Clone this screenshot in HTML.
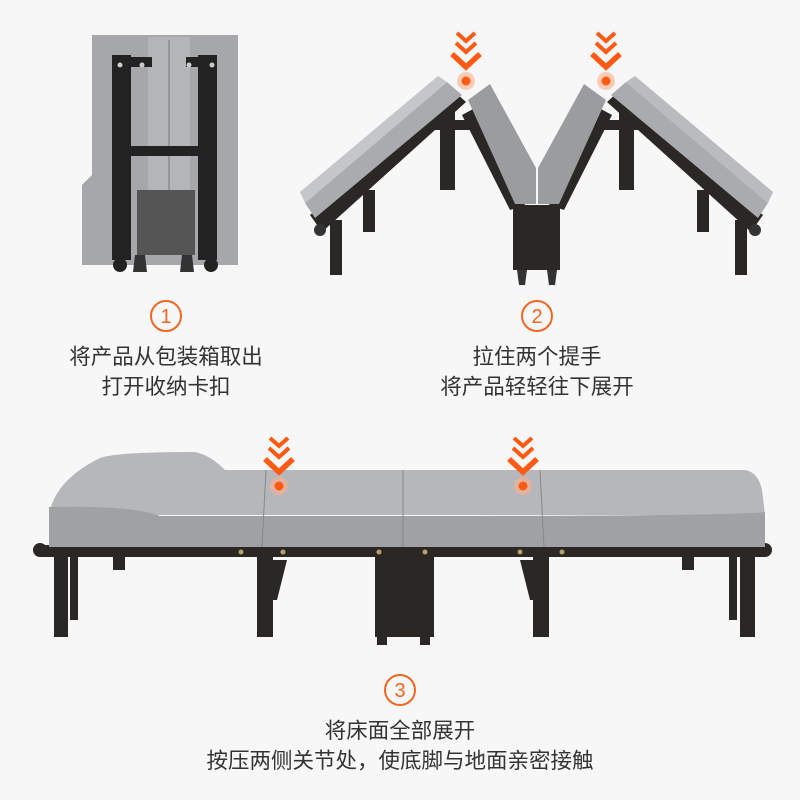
<!DOCTYPE html>
<html><head><meta charset="utf-8"><style>
body{margin:0;background:#f7f7f7;}
svg{display:block}
text{font-family:"Liberation Sans","Noto Sans CJK SC",sans-serif;}
</style></head><body>
<svg width="800" height="800" viewBox="0 0 800 800" xmlns="http://www.w3.org/2000/svg">
<rect width="800" height="800" fill="#f7f7f7"/>
<defs>
<g id="chev">
<path d="M-9,-27 L0,-19 L9,-27" fill="none" stroke="#ff5a14" stroke-width="4"/>
<path d="M-10,-17 L0,-8 L10,-17" fill="none" stroke="#ff5a14" stroke-width="4"/>
<path d="M-14,-6 L0,7 L14,-6" fill="none" stroke="#ff5a14" stroke-width="5.5"/>
<circle cx="0" cy="21" r="9" fill="#ffb08a" opacity="0.6"/>
<circle cx="0" cy="21" r="4.5" fill="#ff5a14"/>
</g>
</defs>

<!-- Image 1 folded -->
<path d="M92,35 L238,35 L238,265 L82,265 L82,185 L92,175 Z" fill="#a5a7ab"/>
<rect x="148" y="37" width="42" height="155" fill="#b3b5b9"/>
<line x1="169" y1="40" x2="169" y2="190" stroke="#777" stroke-width="1"/>
<rect x="112" y="55" width="19" height="205" fill="#222"/>
<rect x="198" y="55" width="19" height="205" fill="#222"/>
<rect x="112" y="57" width="40" height="10" fill="#222"/>
<rect x="186" y="57" width="31" height="10" fill="#222"/>
<rect x="112" y="146" width="105" height="10" fill="#222"/>
<rect x="137" y="190" width="58" height="65" fill="#555"/>
<circle cx="120" cy="65" r="2.5" fill="#ccc"/><circle cx="142" cy="65" r="2.5" fill="#ccc"/>
<circle cx="189" cy="65" r="2.5" fill="#ccc"/><circle cx="212" cy="65" r="2.5" fill="#ccc"/>
<circle cx="120" cy="265" r="7" fill="#222"/><circle cx="211" cy="265" r="7" fill="#222"/>
<path d="M135,255 L145,255 L147,272 L133,272 Z" fill="#333"/>
<path d="M182,255 L192,255 L194,272 L180,272 Z" fill="#333"/>

<!-- Image 2 M shape -->
<g fill="#2b2724">
<rect x="363" y="190" width="12" height="42"/>
<rect x="330" y="220" width="12" height="55"/>
<rect x="440" y="110" width="15" height="80"/>
<rect x="619" y="110" width="15" height="80"/>
<rect x="697" y="190" width="12" height="42"/>
<rect x="735" y="220" width="12" height="55"/>
<rect x="513" y="205" width="47" height="65"/>
<path d="M428,120 L470,120 L470,130 L428,130 Z"/>
<path d="M604,120 L646,120 L646,130 L604,130 Z"/>
<path d="M310,215 L455,92 L466,102 L322,232 Z"/>
<path d="M763,215 L618,92 L607,102 L751,232 Z"/>
<path d="M462,115 L475,108 L525,205 L510,210 Z"/>
<path d="M612,115 L599,108 L549,205 L564,210 Z"/>
</g>
<path d="M305,203 L447,82 L462,95 L315,218 Z" fill="#a9abaf"/>
<path d="M305,203 L447,82 L438,76 L300,192 Z" fill="#c4c6c9"/>
<path d="M768,203 L626,82 L611,95 L758,218 Z" fill="#a9abaf"/>
<path d="M768,203 L626,82 L635,76 L773,192 Z" fill="#b9bbbe"/>
<path d="M468,100 L490,84 L536,168 L536,204 L515,204 Z" fill="#9a9ca0"/>
<path d="M606,100 L584,84 L538,168 L538,204 L559,204 Z" fill="#9a9ca0"/>
<circle cx="320" cy="230" r="6" fill="#333"/><circle cx="755" cy="230" r="6" fill="#333"/>
<path d="M517,270 L527,270 L525,285 L519,285 Z" fill="#333"/>
<path d="M547,270 L557,270 L555,285 L549,285 Z" fill="#333"/>
<use href="#chev" x="466" y="60"/>
<use href="#chev" x="606" y="60"/>

<!-- circle numbers -->
<g fill="none" stroke="#f26522" stroke-width="2">
<circle cx="166" cy="316" r="15"/><circle cx="537" cy="316" r="15"/><circle cx="400" cy="690" r="15"/>
</g>
<g fill="#f26522" font-size="20" text-anchor="middle">
<text x="166" y="323">1</text><text x="537" y="323">2</text><text x="400" y="697">3</text>
</g>
<g fill="#333" font-size="21.5" text-anchor="middle">
<text x="166" y="364">将产品从包装箱取出</text>
<text x="166" y="394">打开收纳卡扣</text>
<text x="537" y="364">拉住两个提手</text>
<text x="537" y="394">将产品轻轻往下展开</text>
<text x="400" y="738">将床面全部展开</text>
<text x="400" y="768">按压两侧关节处，使底脚与地面亲密接触</text>
</g>

<!-- Image 3 bed -->
<g fill="#2b2724">
<rect x="40" y="545" width="725" height="12"/>
<rect x="54" y="545" width="14" height="92"/>
<rect x="70" y="545" width="8" height="75"/>
<rect x="257" y="552" width="16" height="85"/>
<rect x="533" y="552" width="16" height="85"/>
<rect x="740" y="545" width="15" height="92"/>
<rect x="729" y="545" width="8" height="75"/>
<rect x="375" y="550" width="59" height="87"/>
<rect x="113" y="555" width="12" height="15"/>
<rect x="682" y="555" width="12" height="15"/>
<path d="M273,560 L287,560 L277,600 L273,600 Z"/>
<path d="M533,560 L520,560 L530,600 L533,600 Z"/>
<circle cx="40" cy="550" r="7"/><circle cx="765" cy="550" r="7"/>
<rect x="377" y="637" width="10" height="8"/><rect x="420" y="637" width="10" height="8"/>
</g>
<g fill="#b9a06a">
<circle cx="241" cy="552" r="2.5"/><circle cx="283" cy="552" r="2.5"/>
<circle cx="379" cy="552" r="2.5"/><circle cx="425" cy="552" r="2.5"/>
<circle cx="520" cy="552" r="2.5"/><circle cx="562" cy="552" r="2.5"/>
</g>
<path d="M49,515 Q55,480 100,458 Q115,452 195,452 Q210,455 225,470 L745,470 Q758,472 762,490 L765,515 Z" fill="#b5b7bb"/>
<path d="M49,512 L49,547 L765,547 L765,512 Q740,516 400,516 L160,516 Q130,505 49,507 Z" fill="#9fa1a5"/>
<line x1="266" y1="470" x2="262" y2="547" stroke="#888" stroke-width="1"/>
<line x1="403" y1="470" x2="403" y2="547" stroke="#888" stroke-width="1"/>
<line x1="540" y1="470" x2="544" y2="547" stroke="#888" stroke-width="1"/>
<use href="#chev" x="279" y="465"/>
<use href="#chev" x="523" y="465"/>
</svg>
</body></html>
